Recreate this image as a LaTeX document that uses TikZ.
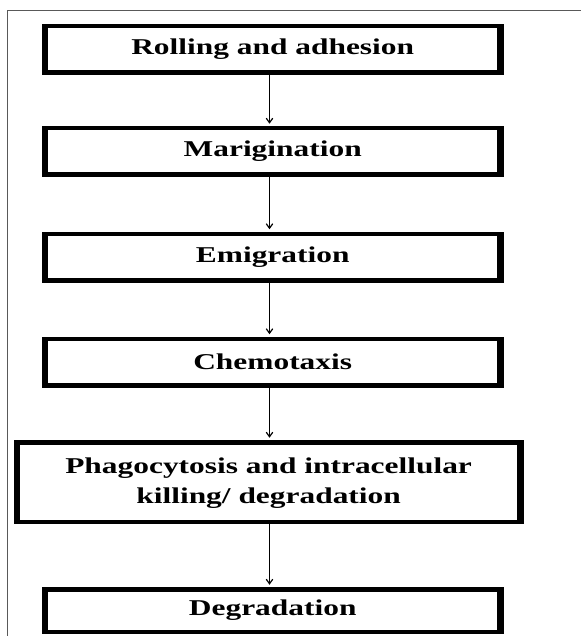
\documentclass[tikz,border=0pt]{standalone}
\usepackage{fontspec}
\usepackage{graphicx}
\setmainfont{Liberation Serif}
\usetikzlibrary{arrows.meta}
\newcommand{\wide}[1]{\scalebox{1.39}[1]{#1}}
\begin{document}
\begin{tikzpicture}[x=1pt,y=-1pt,
  stagebox/.style={draw=black, line width=4.5pt, rectangle, inner sep=0pt, outer sep=0pt,
    minimum width=457.3pt, minimum height=46.5pt,
    font=\fontsize{22.6}{30}\selectfont\bfseries, align=center},
  flowarrow/.style={line width=1.2pt, -{Straight Barb[length=4.5pt,width=6.5pt]}, shorten >=4.5pt}]
\useasboundingbox (0,0) rectangle (580,636);
\draw[gray!70!black, line width=1.4pt] (7.3,640) -- (7.3,10.5) -- (584,10.5);
\node[stagebox] (b1) at (272.7,49.5) {\wide{Rolling and adhesion}};
\node[stagebox] (b2) at (272.7,151.5) {\wide{Marigination}};
\node[stagebox] (b3) at (272.7,257) {\wide{Emigration}};
\node[stagebox] (b4) at (272.7,362) {\wide{Chemotaxis}};
\node[stagebox, minimum width=505.5pt, minimum height=79.5pt] (b5) at (268.6,482)
  {\wide{\begin{tabular}{@{}c@{}}Phagocytosis and intracellular\\killing/ degradation\end{tabular}}};
\node[stagebox, minimum height=42.5pt] (b6) at (272.7,610.5) {\wide{Degradation}};
\foreach \n in {b1,b2,b3,b4,b5,b6}{
  \fill ([xshift=-2.25pt,yshift=2.25pt]\n.north west) rectangle ([xshift=4.1pt,yshift=-2.25pt]\n.south west);
  \fill ([xshift=2.25pt,yshift=2.25pt]\n.north east) rectangle ([xshift=-4.1pt,yshift=-2.25pt]\n.south east);
}
\coordinate (ax) at (269.5,0);
\draw[flowarrow] (b1.south -| ax) -- (b2.north -| ax);
\draw[flowarrow] (b2.south -| ax) -- (b3.north -| ax);
\draw[flowarrow] (b3.south -| ax) -- (b4.north -| ax);
\draw[flowarrow] (b4.south -| ax) -- (b5.north -| ax);
\draw[flowarrow] (b5.south -| ax) -- (b6.north -| ax);
\end{tikzpicture}
\end{document}
